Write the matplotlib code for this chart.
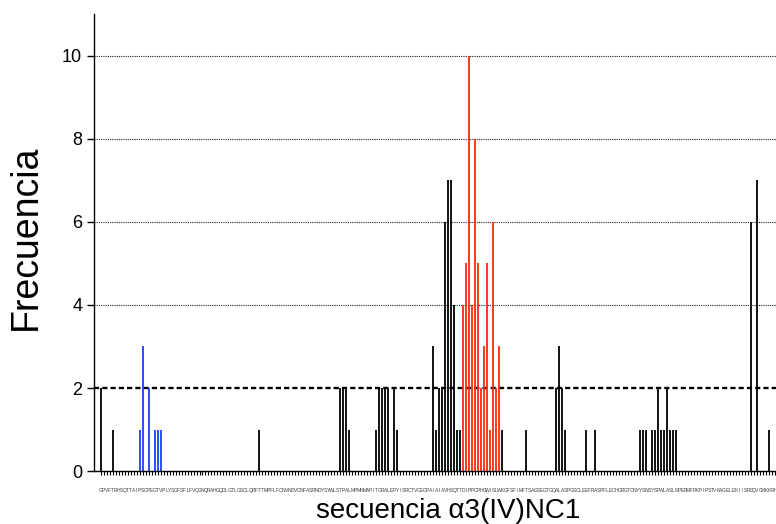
import matplotlib
matplotlib.use("Agg")
from matplotlib import pyplot as plt

plt.rcParams['font.family'] = ['Liberation Sans', 'DejaVu Sans']

# secuencia del dominio NC1 de la cadena alfa3 del colágeno IV
secuencia = ("GPVFTRHSQTTAIPSCPEGTVPLYSGFSFLFVQGNQRAHGQDLGTLGSCLQRFTTMPFLF"
             "CNVNDVCNFASRNDYSYWLSTPALMPMNMAPITGRALEPYISRCTVCEGPAIAIAVHSQT"
             "TDIPPCPHGWISLWKGFSFIMFTSAGSEGTGQALASPGSCLEEFRASPFLECHGRGTCNY"
             "YSNSYSFWLASLNPERMFRKPIPSTVKAGELEKIISRCQVCMKKRH")

# posiciones (índice de residuo) y frecuencias
pos_negro = [0, 4, 53, 80, 81, 82, 83, 92, 93, 94, 95, 96, 98, 99,
             111, 112, 113, 114, 115, 116, 117, 118, 119, 120, 134, 142,
             152, 153, 154, 155, 162, 165,
             180, 181, 182, 184, 185, 186, 187, 188, 189, 190, 191, 192,
             217, 219, 223]
frec_negro = [2, 1, 1, 2, 2, 2, 1, 1, 2, 2, 2, 2, 2, 1,
              3, 1, 2, 2, 6, 7, 7, 4, 1, 1, 1, 1,
              2, 3, 2, 1, 1, 1,
              1, 1, 1, 1, 1, 2, 1, 1, 2, 1, 1, 1,
              6, 7, 1]

pos_azul = [13, 14, 16, 18, 19, 20]
frec_azul = [1, 3, 2, 1, 1, 1]

pos_rojo = [121, 122, 123, 124, 125, 126, 127, 128, 129, 130, 131, 132, 133]
frec_rojo = [4, 5, 10, 4, 8, 5, 2, 3, 5, 1, 6, 2, 3]

umbral = 2
yticks = [0, 2, 4, 6, 8, 10]

fig = plt.figure(figsize=(7.76, 5.24), dpi=100)
ax = fig.add_axes([0.1211, 0.1008, 0.8789, 0.8725])

for y in yticks[2:]:
    ax.axhline(y, color='#222222', linestyle=(0, (1, 1)), linewidth=0.8, zorder=1)
ax.axhline(umbral, color='black', linestyle=(0, (2.2, 1.3)), linewidth=1.7, zorder=1)

ax.vlines(pos_negro, 0, frec_negro, color='black', linewidth=1.3, zorder=2)
ax.vlines(pos_azul, 0, frec_azul, color='#1f3dff', linewidth=1.3, zorder=2)
ax.vlines(pos_rojo, 0, frec_rojo, color='#ff2a0a', linewidth=1.3, zorder=2)

ax.set_xlim(-2.2, 225.3)
ax.set_ylim(0, 11)
ax.set_yticks(yticks)
ax.set_xticks(range(len(secuencia)))
ax.set_xticklabels(list(secuencia), fontsize=3.6, color='#444444')
ax.tick_params(axis='x', length=3, width=0.8, pad=9)
ax.tick_params(axis='y', labelsize=13, length=5, width=1)

for s in ['top', 'right']:
    ax.spines[s].set_visible(False)
ax.spines['left'].set_linewidth(1)
ax.spines['bottom'].set_linewidth(1)

ax.set_ylabel('Frecuencia', fontsize=27)
ax.yaxis.set_label_coords(-0.074, 0.512)
ax.set_xlabel('secuencia α3(IV)NC1', fontsize=20)
ax.xaxis.set_label_coords(0.52, -0.058)

fig.savefig('out.png', dpi=100)
